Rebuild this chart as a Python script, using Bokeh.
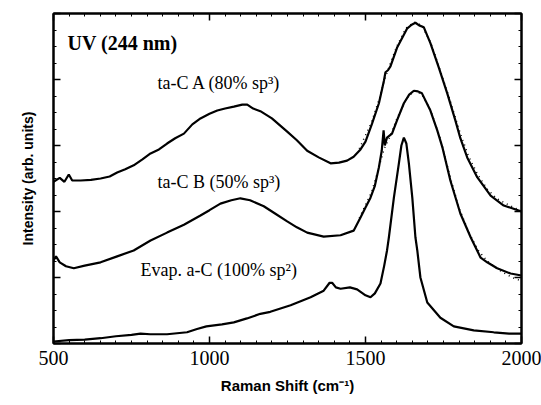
from bokeh.plotting import figure
from bokeh.models import Range1d, LinearAxis, SingleIntervalTicker, Label, CustomJSTickFormatter, Title
from bokeh.embed import file_html
from bokeh.resources import INLINE

# ---- data ----
shift_a = [500, 520, 535, 549, 560, 587, 620, 651, 680, 704, 730, 757, 785, 811, 838, 864, 890, 918,
           945, 971, 1000, 1025, 1050, 1078, 1105, 1121, 1140, 1163, 1200, 1249, 1280, 1313, 1350,
           1388, 1415, 1441, 1462, 1484, 1500, 1521, 1543, 1552, 1559, 1564, 1572, 1580, 1601, 1620,
           1633, 1648, 1660, 1672, 1687, 1708, 1735, 1762, 1788, 1804, 1826, 1858, 1901, 1943, 1970, 2000]
int_a = [2.45, 2.51, 2.45, 2.56, 2.47, 2.47, 2.48, 2.50, 2.53, 2.59, 2.64, 2.70, 2.79, 2.88, 2.94, 3.03,
         3.11, 3.18, 3.32, 3.41, 3.48, 3.53, 3.56, 3.59, 3.62, 3.62, 3.56, 3.52, 3.41, 3.21, 3.08, 2.92,
         2.82, 2.73, 2.74, 2.77, 2.83, 2.94, 3.06, 3.33, 3.64, 3.83, 3.98, 4.11, 4.14, 4.20, 4.48, 4.65,
         4.77, 4.83, 4.86, 4.82, 4.79, 4.55, 4.18, 3.79, 3.38, 3.11, 2.82, 2.52, 2.24, 2.09, 2.05, 2.00]

shift_b = [500, 508, 520, 540, 565, 600, 651, 704, 757, 811, 864, 918, 971, 1000, 1035, 1070, 1099,
           1130, 1174, 1210, 1249, 1280, 1313, 1366, 1420, 1462, 1484, 1500, 1516, 1530, 1543, 1552,
           1558, 1562, 1569, 1585, 1601, 1623, 1640, 1655, 1668, 1681, 1708, 1730, 1746, 1772, 1804,
           1837, 1869, 1890, 1922, 1965, 2000]
int_b = [1.26, 1.32, 1.23, 1.17, 1.14, 1.18, 1.23, 1.32, 1.41, 1.56, 1.68, 1.80, 1.94, 2.02, 2.12, 2.17,
         2.20, 2.17, 2.08, 1.97, 1.85, 1.76, 1.68, 1.62, 1.64, 1.71, 1.91, 2.06, 2.21, 2.39, 2.67, 2.92,
         3.23, 3.00, 3.12, 3.18, 3.38, 3.64, 3.77, 3.83, 3.82, 3.79, 3.53, 3.23, 2.98, 2.47, 1.97,
         1.61, 1.30, 1.23, 1.14, 1.06, 1.03]

shift_c = [500, 550, 600, 651, 700, 750, 779, 810, 864, 928, 960, 990, 1040, 1078, 1120, 1163, 1195,
           1260, 1324, 1366, 1385, 1393, 1405, 1420, 1450, 1473, 1500, 1516, 1530, 1548, 1560, 1569,
           1575, 1591, 1607, 1615, 1623, 1631, 1639, 1650, 1660, 1666, 1676, 1698, 1740, 1783, 1847,
           1911, 1960, 2000]
int_c = [0.03, 0.05, 0.06, 0.08, 0.11, 0.13, 0.15, 0.14, 0.14, 0.17, 0.22, 0.26, 0.29, 0.32, 0.38, 0.45,
         0.48, 0.58, 0.70, 0.80, 0.92, 0.92, 0.85, 0.83, 0.85, 0.82, 0.73, 0.70, 0.76, 0.91, 1.18, 1.41,
         1.61, 2.21, 2.73, 3.00, 3.12, 3.03, 2.73, 2.21, 1.61, 1.41, 1.00, 0.62, 0.39, 0.26, 0.20,
         0.17, 0.15, 0.15]

fit_shift = [1480, 1520, 1545, 1560, 1580, 1600, 1630, 1655, 1680, 1710, 1740, 1770, 1800, 1830, 1860,
             1890, 1920, 1950, 1980, 2000]
fit_a = [2.95, 3.36, 3.72, 3.98, 4.25, 4.50, 4.78, 4.87, 4.82, 4.55, 4.13, 3.70, 3.24, 2.84, 2.56,
         2.34, 2.20, 2.12, 2.05, 2.01]
fit_b = [1.90, 2.30, 2.70, 2.95, 3.15, 3.40, 3.70, 3.83, 3.78, 3.52, 3.10, 2.55, 2.05, 1.70, 1.42,
         1.25, 1.14, 1.05, 0.98, 0.95]

labels = ["ta-C A (80% sp\u00b3)", "ta-C B (50% sp\u00b3)", "Evap. a-C (100% sp\u00b2)"]
label_x = [833, 833, 779]
label_y = [3.95, 2.44, 1.11]

SERIF = "Liberation Serif"
SANS = "Liberation Sans"

p = figure(width=541, height=405, output_backend="svg", toolbar_location=None,
           x_range=Range1d(500, 2000), y_range=Range1d(0, 5),
           min_border_left=53, min_border_right=20, min_border_top=13, min_border_bottom=62,
           background_fill_color="white", border_fill_color="white")
p.xgrid.visible = False
p.ygrid.visible = False
p.outline_line_color = "black"
p.outline_line_width = 2

blank = CustomJSTickFormatter(code="return '';")

def style(ax, show_labels):
    ax.axis_line_color = "black"
    ax.axis_line_width = 2
    ax.major_tick_in = 7
    ax.major_tick_out = 0
    ax.minor_tick_in = 3
    ax.minor_tick_out = 0
    ax.major_tick_line_width = 1.5
    ax.minor_tick_line_width = 1
    if not show_labels:
        ax.formatter = blank
        ax.major_label_standoff = 0

xa = p.xaxis[0]
xa.ticker = SingleIntervalTicker(interval=500, num_minor_ticks=10)
style(xa, True)
xa.major_label_text_font = SERIF
xa.major_label_text_font_size = "20px"
xa.major_label_text_color = "black"
xa.major_label_standoff = 7
xa.axis_label = "Raman Shift (cm\u207b\u00b9)"
xa.axis_label_text_font = SANS
xa.axis_label_text_font_style = "bold"
xa.axis_label_text_font_size = "15px"
xa.axis_label_text_color = "black"
xa.axis_label_standoff = 9

ya = p.yaxis[0]
ya.ticker = SingleIntervalTicker(interval=1, num_minor_ticks=4)
style(ya, False)

top = LinearAxis(ticker=SingleIntervalTicker(interval=500, num_minor_ticks=10))
style(top, False)
p.add_layout(top, "above")
right = LinearAxis(ticker=SingleIntervalTicker(interval=1, num_minor_ticks=4))
style(right, False)
p.add_layout(right, "right")

# y-axis title as a side title
ytitle = Title(text="Intensity (arb. units)", align="center", standoff=35,
               text_font=SANS, text_font_style="bold", text_font_size="14px", text_color="black")
p.add_layout(ytitle, "left")

p.line(shift_a, int_a, line_color="black", line_width=2.2)
p.line(shift_b, int_b, line_color="black", line_width=2.2)
p.line(shift_c, int_c, line_color="black", line_width=2.2)
p.line(fit_shift, fit_a, line_color="black", line_width=1.5, line_dash="1 4")
p.line(fit_shift, fit_b, line_color="black", line_width=1.5, line_dash="1 4")

p.add_layout(Label(x=545, y=4.56, text="UV (244 nm)", text_font=SERIF, text_font_style="bold",
                   text_font_size="20px", text_baseline="middle", text_color="black"))
for t, lx, ly in zip(labels, label_x, label_y):
    p.add_layout(Label(x=lx, y=ly, text=t, text_font=SERIF, text_font_size="18px",
                       text_baseline="middle", text_color="black"))

open("out.html", "w").write(file_html(p, INLINE))
